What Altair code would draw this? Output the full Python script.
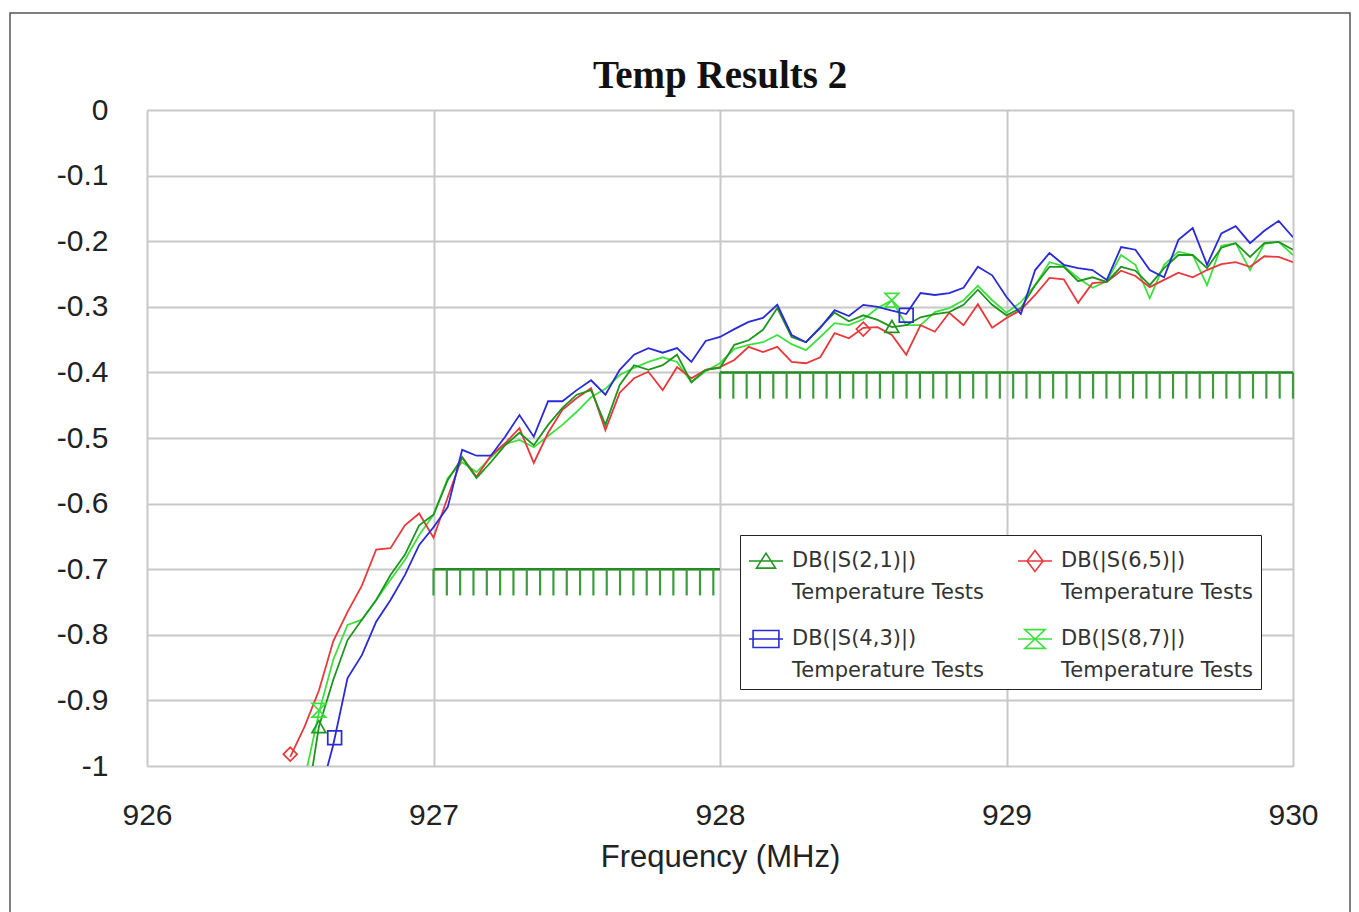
import altair as alt
import pandas as pd
import numpy as np

freq = [926.50, 926.55, 926.60, 926.65, 926.70, 926.75, 926.80, 926.85, 926.90, 926.95,
        927.00, 927.05, 927.10, 927.15, 927.20, 927.25, 927.30, 927.35, 927.40, 927.45,
        927.50, 927.55, 927.60, 927.65, 927.70, 927.75, 927.80, 927.85, 927.90, 927.95,
        928.00, 928.05, 928.10, 928.15, 928.20, 928.25, 928.30, 928.35, 928.40, 928.45,
        928.50, 928.55, 928.60, 928.65, 928.70, 928.75, 928.80, 928.85, 928.90, 928.95,
        929.00, 929.05, 929.10, 929.15, 929.20, 929.25, 929.30, 929.35, 929.40, 929.45,
        929.50, 929.55, 929.60, 929.65, 929.70, 929.75, 929.80, 929.85, 929.90, 929.95,
        930.00]

s21 = [None, -1.08, -0.940, -0.869, -0.808, -0.777, -0.747, -0.709, -0.678, -0.633,
       -0.617, -0.564, -0.530, -0.561, -0.537, -0.511, -0.492, -0.511, -0.480, -0.454,
       -0.434, -0.427, -0.480, -0.419, -0.389, -0.396, -0.389, -0.373, -0.415, -0.396,
       -0.393, -0.358, -0.351, -0.335, -0.302, -0.346, -0.354, -0.331, -0.309, -0.322,
       -0.313, -0.320, -0.331, -0.328, -0.316, -0.311, -0.308, -0.297, -0.274, -0.297,
       -0.313, -0.302, -0.267, -0.239, -0.239, -0.261, -0.255, -0.262, -0.239, -0.245,
       -0.267, -0.241, -0.221, -0.221, -0.241, -0.210, -0.203, -0.224, -0.203, -0.201,
       -0.213]

s43 = [None, None, -1.05, -0.968, -0.866, -0.831, -0.780, -0.747, -0.709, -0.663,
       -0.636, -0.605, -0.518, -0.527, -0.527, -0.498, -0.465, -0.498, -0.444, -0.444,
       -0.427, -0.412, -0.434, -0.396, -0.373, -0.363, -0.370, -0.363, -0.384, -0.352,
       -0.346, -0.334, -0.323, -0.317, -0.297, -0.343, -0.354, -0.332, -0.305, -0.314,
       -0.297, -0.300, -0.306, -0.311, -0.279, -0.282, -0.279, -0.271, -0.239, -0.252,
       -0.285, -0.311, -0.244, -0.218, -0.236, -0.241, -0.244, -0.259, -0.209, -0.213,
       -0.244, -0.255, -0.198, -0.180, -0.236, -0.188, -0.177, -0.203, -0.184, -0.169,
       -0.194]

s65 = [-0.986, -0.940, -0.885, -0.810, -0.765, -0.725, -0.670, -0.668, -0.633, -0.615,
       -0.652, -0.590, -0.529, -0.559, -0.527, -0.508, -0.485, -0.538, -0.492, -0.457,
       -0.439, -0.424, -0.488, -0.431, -0.409, -0.399, -0.427, -0.392, -0.409, -0.396,
       -0.392, -0.381, -0.361, -0.369, -0.361, -0.384, -0.386, -0.377, -0.340, -0.348,
       -0.332, -0.331, -0.343, -0.373, -0.328, -0.338, -0.309, -0.328, -0.296, -0.332,
       -0.317, -0.305, -0.282, -0.256, -0.258, -0.294, -0.264, -0.262, -0.245, -0.253,
       -0.270, -0.259, -0.248, -0.255, -0.244, -0.235, -0.232, -0.239, -0.223, -0.224,
       -0.232]

s87 = [None, -1.02, -0.919, -0.838, -0.785, -0.777, -0.747, -0.716, -0.686, -0.648,
       -0.617, -0.561, -0.537, -0.552, -0.530, -0.509, -0.503, -0.514, -0.497, -0.480,
       -0.460, -0.438, -0.425, -0.404, -0.393, -0.384, -0.377, -0.384, -0.415, -0.398,
       -0.386, -0.364, -0.358, -0.354, -0.343, -0.357, -0.366, -0.346, -0.325, -0.328,
       -0.319, -0.302, -0.290, -0.328, -0.328, -0.308, -0.302, -0.290, -0.268, -0.290,
       -0.309, -0.293, -0.267, -0.232, -0.238, -0.256, -0.271, -0.261, -0.221, -0.236,
       -0.287, -0.236, -0.216, -0.221, -0.267, -0.207, -0.203, -0.244, -0.204, -0.201,
       -0.221]

series_names = ["DB(|S(2,1)|)", "DB(|S(6,5)|)", "DB(|S(4,3)|)", "DB(|S(8,7)|)"]
# legend entries fill column by column: S(2,1), S(4,3) | S(6,5), S(8,7)
legend_order = ["DB(|S(2,1)|)", "DB(|S(4,3)|)", "DB(|S(6,5)|)", "DB(|S(8,7)|)"]
series_colors = ["#1e961e", "#e8383c", "#2a2ad6", "#3ee03e"]
legend_shapes = [
    "M-1,0H1M-0.56,0.42L0,-0.46L0.56,0.42Z",
    "M-1,0H1M0,-0.62L0.47,0L0,0.62L-0.47,0Z",
    "M-1,0H1M-0.76,-0.5H0.76V0.5H-0.76Z",
    "M-1,0H1M-0.6,-0.55H0.6L-0.6,0.55H0.6Z",
]
plot_shapes = ["triangle-up", "diamond", "square", "M-1,-1H1L-1,1H1Z"]

marker_series = ["DB(|S(6,5)|)", "DB(|S(8,7)|)", "DB(|S(2,1)|)", "DB(|S(4,3)|)",
                 "DB(|S(6,5)|)", "DB(|S(2,1)|)", "DB(|S(8,7)|)", "DB(|S(4,3)|)"]
marker_freq = [926.50, 926.60, 926.60, 926.655, 928.50, 928.60, 928.60, 928.65]
marker_val = [-0.982, -0.915, -0.940, -0.957, -0.334, -0.330, -0.290, -0.313]

spec_start = [927.0, 928.0]
spec_end = [928.0, 930.0]
spec_level = [-0.7, -0.4]

x_ticks = [926, 927, 928, 929, 930]
y_ticks = [0, -0.1, -0.2, -0.3, -0.4, -0.5, -0.6, -0.7, -0.8, -0.9, -1]

# ---- tables ----
series_values = {"DB(|S(2,1)|)": s21, "DB(|S(4,3)|)": s43,
                 "DB(|S(6,5)|)": s65, "DB(|S(8,7)|)": s87}
draw_order = ["DB(|S(8,7)|)", "DB(|S(6,5)|)", "DB(|S(2,1)|)", "DB(|S(4,3)|)"]
rows = []
for name in draw_order:
    for f, v in zip(freq, series_values[name]):
        if v is not None:
            rows.append({"freq": f, "val": v, "series": name})
df = pd.DataFrame(rows)

mk = pd.DataFrame({"freq": marker_freq, "val": marker_val, "series": marker_series})
spec = pd.DataFrame({"start": spec_start, "end": spec_end, "level": spec_level})
tick_rows = []
for s, e, l in zip(spec_start, spec_end, spec_level):
    for t in np.arange(s, e + 1e-9, 1 / 21.5):
        tick_rows.append({"freq": float(t), "level": l})
ticks = pd.DataFrame(tick_rows)

W, H = 1146, 656
xscale = alt.Scale(domain=[926, 930], nice=False, zero=False)
yscale = alt.Scale(domain=[-1, 0], nice=False, zero=False)
color_scale = alt.Scale(domain=series_names, range=series_colors)
shape_scale = alt.Scale(domain=series_names, range=legend_shapes)

xaxis = alt.Axis(values=x_ticks, format="d", grid=True, gridColor="#c8c8c8", gridWidth=2,
                 ticks=False, tickSize=0, domain=False,
                 labelFont="Liberation Sans", labelFontSize=30, labelColor="#222",
                 labelPadding=34, labelFlush=False, labelOverlap=False,
                 titleFont="Liberation Sans", titleFontSize=31, titleFontWeight="normal",
                 titleColor="#222", titlePadding=12)
yaxis = alt.Axis(values=y_ticks, grid=True, gridColor="#c8c8c8", gridWidth=2,
                 ticks=False, tickSize=0, domain=False,
                 labelFont="Liberation Sans", labelFontSize=30, labelColor="#222",
                 labelPadding=39, labelFlush=False, labelOverlap=False,
                 labelExpr="toString(datum.value)")

legend = alt.Legend(title=None, orient="none", legendX=593, legendY=425, columns=2,
                    values=legend_order,
                    labelFont="DejaVu Sans", labelFontSize=21, labelColor="#333",
                    labelExpr="[datum.label, 'Temperature Tests']", labelLimit=400,
                    labelOffset=8, labelBaseline="middle",
                    symbolSize=1156, symbolStrokeWidth=1.6, symbolOpacity=1,
                    symbolFillColor="transparent",
                    strokeColor="#222", fillColor="white", padding=8,
                    columnPadding=30, rowPadding=18)

X = alt.X("freq:Q", scale=xscale, axis=xaxis, title="Frequency (MHz)")
Y = alt.Y("val:Q", scale=yscale, axis=yaxis, title=None)

frame = alt.Chart(pd.DataFrame({"k": [0]})).mark_rect(
    fill="transparent", stroke="#555", strokeWidth=1.5
).encode(x=alt.value(-137), x2=alt.value(1203), y=alt.value(-97), y2=alt.value(830))

spec_line = alt.Chart(spec).mark_rule(color="#228b22", strokeWidth=2.5).encode(
    x=alt.X("start:Q", scale=xscale), x2="end:Q", y=alt.Y("level:Q", scale=yscale))
spec_ticks = alt.Chart(ticks).transform_calculate(
    bottom="datum.level - 0.04"
).mark_rule(color="#3c9c3c", strokeWidth=2.2).encode(
    x=alt.X("freq:Q", scale=xscale), y=alt.Y("level:Q", scale=yscale), y2="bottom:Q")

lines = alt.Chart(df).mark_line(strokeWidth=1.8, clip=True).encode(
    x=X, y=Y,
    color=alt.Color("series:N", scale=color_scale, legend=legend),
    order=alt.Order("freq:Q"),
)

marker_layers = []
for name, col, shp in zip(series_names, series_colors, plot_shapes):
    marker_layers.append(
        alt.Chart(mk).transform_filter(alt.datum.series == name).mark_point(
            shape=shp, size=190, filled=False, color=col, strokeWidth=1.7, opacity=1
        ).encode(x=alt.X("freq:Q", scale=xscale), y=alt.Y("val:Q", scale=yscale))
    )

legend_layer = alt.Chart(df).mark_point(opacity=0, filled=False).encode(
    x=alt.X("freq:Q", scale=xscale), y=alt.Y("val:Q", scale=yscale),
    color=alt.Color("series:N", scale=color_scale, legend=legend),
    shape=alt.Shape("series:N", scale=shape_scale, legend=legend),
)

chart = alt.layer(frame, spec_line, spec_ticks, lines, *marker_layers, legend_layer).properties(
    width=W, height=H,
    title=alt.TitleParams("Temp Results 2", font="Liberation Serif", fontSize=39,
                          fontWeight="bold", color="#111", anchor="middle",
                          frame="group", offset=0, dy=84),
    autosize=alt.AutoSizeParams(type="none"),
    padding={"left": 147, "top": 110, "right": 66, "bottom": 146},
    background="white",
).configure_view(stroke="#222", strokeWidth=2).configure(
    style={"guide-label": {"lineHeight": 32}}
)

chart.save("out.html", embed_options={"renderer": "svg", "actions": False})
